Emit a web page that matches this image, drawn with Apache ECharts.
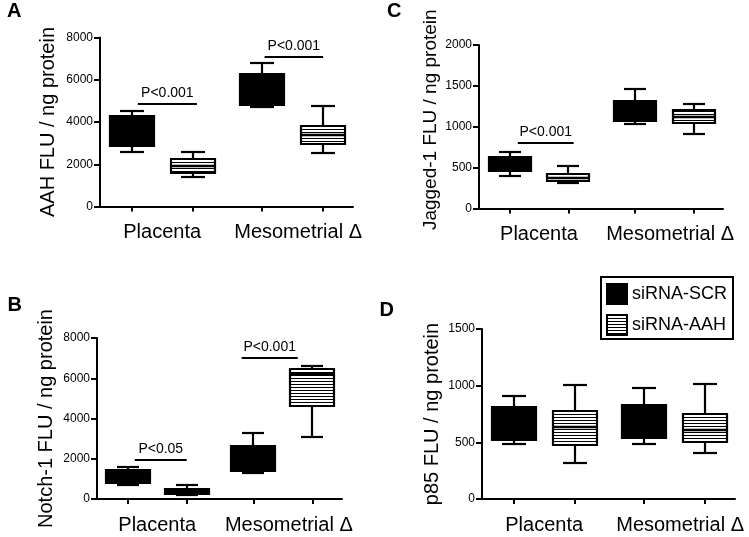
<!DOCTYPE html>
<html><head><meta charset="utf-8">
<script src="https://cdn.jsdelivr.net/npm/echarts@6/dist/echarts.min.js"></script>
<style>html,body{margin:0;padding:0;background:#fff}#c{width:749px;height:537px}</style>
</head><body><div id="c"></div>
<script>
// ---------- data ----------
const categories = ['Placenta', 'Mesometrial Δ'];
const groupNames = ['siRNA-SCR', 'siRNA-AAH'];
const panelLetters = ['A', 'B', 'C', 'D'];
const yTitles = ['AAH FLU / ng protein', 'Notch-1 FLU / ng protein', 'Jagged-1 FLU / ng protein', 'p85 FLU / ng protein'];
const yMax = [8000, 8000, 2000, 1500];
const yStep = [2000, 2000, 500, 500];
// box values per category: [min, Q1, median, Q3, max]
const aahSCR   = [[2580, 2850, 3500, 4280, 4520], [4720, 4790, 5100, 6260, 6780]];
const aahAAH   = [[1390, 1580, 1900, 2250, 2580], [2540, 2980, 3400, 3800, 4750]];
const notchSCR = [[680, 790, 1200, 1450, 1580], [1290, 1370, 1700, 2610, 3270]];
const notchAAH = [[180, 250, 400, 510, 710], [3070, 4620, 6200, 6450, 6600]];
const jagSCR   = [[400, 457, 550, 633, 694], [1029, 1073, 1150, 1318, 1457]];
const jagAAH   = [[306, 335, 370, 416, 522], [910, 1049, 1120, 1204, 1278]];
const p85SCR   = [[488, 518, 650, 814, 908], [488, 538, 680, 828, 976]];
const p85AAH   = [[317, 473, 636, 775, 1006], [405, 503, 606, 749, 1012]];
// significance brackets: [y value, label]
const sigAAH   = [[4860, 'P<0.001'], [7100, 'P<0.001']];
const sigNotch = [[1950, 'P<0.05'], [7000, 'P<0.001']];
const sigJag   = [[800, 'P<0.001']];
const sigP85   = [];

// ---------- layout ----------
const FONT = '"Liberation Sans", Arial, Helvetica, sans-serif';
const grids = [
  {left: 100, top: 37.5, width: 253, height: 169},
  {left: 97, top: 338, width: 245, height: 161},
  {left: 479, top: 45, width: 244, height: 163.5},
  {left: 482, top: 329, width: 253, height: 170}
];
const slotX = [0.52, 1.52, 2.65, 3.65];
const X_MAX = 4.15;
const BOX_W = 0.73, CAP_W = 0.38;
const sigSpans = [
  [[0.62, 1.59], [2.70, 3.66]],
  [[0.64, 1.52], [2.45, 3.40]],
  [[0.66, 1.61]],
  []
];
const nameGaps = [42, 41, 39, 40];
const nameSizes = [20, 20, 19, 20];
const namePads = [[0,0,0,0],[0,0,0,0],[0,0,0,14],[0,0,0,0]];
const letterPos = [[14, 12], [14.5, 306], [394, 12.5], [386.5, 311]];

const scrSets = [aahSCR, notchSCR, jagSCR, p85SCR];
const aahSets = [aahAAH, notchAAH, jagAAH, p85AAH];
const sigSets = [sigAAH, sigNotch, sigJag, sigP85];

// striped pattern
const pc = document.createElement('canvas');
pc.width = 4; pc.height = 3;
const pctx = pc.getContext('2d');
pctx.fillStyle = '#fff'; pctx.fillRect(0, 0, 4, 3);
pctx.fillStyle = '#000'; pctx.fillRect(0, 0, 4, 1);
const stripe = {image: pc, repeat: 'repeat'};

function boxRenderer(fill) {
  return function (params, api) {
    const x = api.value(0);
    const mn = api.value(1), q1 = api.value(2), md = api.value(3), q3 = api.value(4), mx = api.value(5);
    const cx = Math.round(api.coord([x, md])[0]);
    const yy = v => Math.round(api.coord([x, v])[1]);
    const half = Math.round(api.size([BOX_W / 2, 0])[0]);
    const cap = Math.round(api.size([CAP_W / 2, 0])[0]);
    const ls = {stroke: '#000', lineWidth: 2.2};
    return {type: 'group', children: [
      {type: 'line', shape: {x1: cx, y1: yy(mx), x2: cx, y2: yy(q3)}, style: ls},
      {type: 'line', shape: {x1: cx, y1: yy(q1), x2: cx, y2: yy(mn)}, style: ls},
      {type: 'line', shape: {x1: cx - cap, y1: yy(mx), x2: cx + cap, y2: yy(mx)}, style: ls},
      {type: 'line', shape: {x1: cx - cap, y1: yy(mn), x2: cx + cap, y2: yy(mn)}, style: ls},
      {type: 'rect', shape: {x: cx - half, y: yy(q3), width: 2 * half, height: yy(q1) - yy(q3)},
        style: {fill: fill, stroke: '#000', lineWidth: 2.2}},
      {type: 'line', shape: {x1: cx - half, y1: yy(md), x2: cx + half, y2: yy(md)}, style: {stroke: '#000', lineWidth: 2.5}}
    ]};
  };
}
function sigRenderer(labels) {
  return function (params, api) {
    const a = api.coord([api.value(0), api.value(2)]);
    const b = api.coord([api.value(1), api.value(2)]);
    const y = Math.round(a[1]);
    return {type: 'group', children: [
      {type: 'line', shape: {x1: a[0], y1: y, x2: b[0], y2: y}, style: {stroke: '#000', lineWidth: 2}},
      {type: 'text', x: (a[0] + b[0]) / 2, y: y - 4,
        style: {text: labels[params.dataIndex], fill: '#000', fontSize: 14, fontFamily: FONT, align: 'center', verticalAlign: 'bottom'}}
    ]};
  };
}

const xAxes = [], yAxes = [], series = [], graphics = [];
grids.forEach((g, i) => {
  xAxes.push({
    type: 'value', gridIndex: i, min: 0, max: X_MAX,
    axisLine: {show: true, onZero: false, lineStyle: {color: '#000', width: 2}},
    axisTick: {show: true, customValues: slotX, length: 5, lineStyle: {color: '#000', width: 2}},
    axisLabel: {show: true, customValues: [(slotX[0] + slotX[1]) / 2, (slotX[2] + slotX[3]) / 2 + 0.1],
      formatter: v => (v < 2 ? categories[0] : categories[1]),
      fontSize: 20, color: '#000', fontFamily: FONT, margin: 16},
    splitLine: {show: false}
  });
  yAxes.push({
    type: 'value', gridIndex: i, min: 0, max: yMax[i], interval: yStep[i],
    name: yTitles[i], nameLocation: 'middle', nameGap: nameGaps[i], nameRotate: 90,
    nameTextStyle: {fontSize: nameSizes[i], color: '#000', fontFamily: FONT, padding: namePads[i]},
    axisLine: {show: true, onZero: false, lineStyle: {color: '#000', width: 2}},
    axisTick: {show: true, length: 6, lineStyle: {color: '#000', width: 2}},
    axisLabel: {fontSize: 12, color: '#000', fontFamily: FONT, margin: 7, formatter: v => String(v)},
    splitLine: {show: false}
  });
  const sets = [scrSets[i], aahSets[i]];
  sets.forEach((set, s) => {
    series.push({
      type: 'custom', name: groupNames[s], xAxisIndex: i, yAxisIndex: i,
      itemStyle: {color: s === 0 ? '#000' : stripe},
      renderItem: boxRenderer(s === 0 ? '#000' : stripe),
      encode: {x: 0, y: [1, 2, 3, 4, 5]},
      data: set.map((d, k) => [slotX[2 * k + s]].concat(d)),
      silent: true, animation: false
    });
  });
  if (sigSets[i].length) {
    series.push({
      type: 'custom', name: 'sig' + i, xAxisIndex: i, yAxisIndex: i,
      renderItem: sigRenderer(sigSets[i].map(d => d[1])),
      encode: {x: [0, 1], y: 2},
      data: sigSets[i].map((d, k) => [sigSpans[i][k][0], sigSpans[i][k][1], d[0]]),
      silent: true, animation: false
    });
  }
  graphics.push({type: 'text', left: letterPos[i][0] - 7, top: letterPos[i][1] - 11,
    style: {text: panelLetters[i], fill: '#000', font: 'bold 20px ' + FONT}});
});

const chart = echarts.init(document.getElementById('c'), null, {renderer: 'canvas'});
chart.setOption({
  animation: false,
  backgroundColor: '#fff',
  textStyle: {fontFamily: FONT},
  grid: grids,
  xAxis: xAxes,
  yAxis: yAxes,
  series: series,
  graphic: graphics,
  legend: {
    data: groupNames, orient: 'vertical', left: 601, top: 277,
    padding: [6, 6, 3, 5], itemGap: 9, itemWidth: 20, itemHeight: 20,
    borderColor: '#000', borderWidth: 2, icon: 'rect', selectedMode: false,
    itemStyle: {borderColor: '#000', borderWidth: 2},
    textStyle: {fontSize: 18, color: '#000', fontFamily: FONT}
  }
});
</script></body></html>
